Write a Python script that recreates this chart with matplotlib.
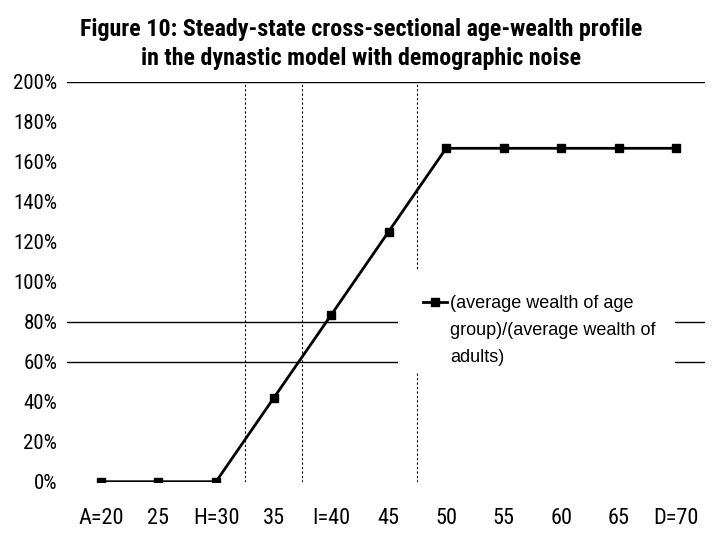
import matplotlib
matplotlib.use("Agg")
import matplotlib.pyplot as plt
from matplotlib.lines import Line2D
from matplotlib.patches import Rectangle

# ── Data ──────────────────────────────────────────────────────────────────────
AGES    = ["A=20", "25", "H=30", "35", "I=40", "45", "50", "55", "60", "65", "D=70"]
WEALTH  = [0, 0, 0, 41.7, 83.3, 125.0, 166.7, 166.7, 166.7, 166.7, 166.7]
YTICKS  = [0, 20, 40, 60, 80, 100, 120, 140, 160, 180, 200]
VLINES  = [2.5, 3.5, 5.5]        # dotted separators between age groups
HLINES  = [200, 80, 60]
LABEL   = ["(average wealth of age", "group)/(average wealth of", "adults)"]
TITLE   = ("Figure 10: Steady-state cross-sectional age-wealth profile\n"
           "in the dynastic model with demographic noise")

NARROW  = ["Roboto Condensed", "Archivo Narrow", "Asap Condensed", "DejaVu Sans"]
REGULAR = ["Liberation Sans", "DejaVu Sans"]

fig = plt.figure(figsize=(7.2, 5.4), dpi=100)
ax = fig.add_axes([67 / 720, 1 - 481.7 / 540, 638 / 720, 400 / 540])

x = list(range(len(AGES)))
for v in VLINES:
    ax.axvline(v, color="black", lw=0.8, ls=(0, (2, 2)), zorder=1)
for h in HLINES:
    ax.axhline(h, color="black", lw=1.0, zorder=1)

# white box behind legend (covers grid lines like the original)
ax.add_patch(Rectangle((0.519, 0.274), 0.434, 0.255, transform=ax.transAxes,
                       facecolor="white", edgecolor="none", zorder=2))

line, = ax.plot(x, WEALTH, color="black", lw=2, marker="s", ms=6, zorder=3)

ax.set_xlim(-0.59, 10.5)
ax.set_ylim(0, 200)
ax.set_xticks(x)
ax.set_xticklabels(AGES, fontfamily=NARROW, fontsize=16)
ax.set_yticks(YTICKS)
ax.set_yticklabels([f"{t}%" for t in YTICKS], fontfamily=NARROW, fontsize=15)
ax.tick_params(axis="both", length=0)
ax.tick_params(axis="x", pad=19)
ax.tick_params(axis="y", pad=7)
for s in ax.spines.values():
    s.set_visible(False)

blank = Line2D([], [], linestyle="none")
leg = ax.legend([line, blank, blank], LABEL, loc="upper left",
                bbox_to_anchor=(0.558, 0.466), frameon=False,
                prop={"family": REGULAR, "size": 13}, handlelength=1.33,
                handletextpad=0.17, labelspacing=0.54, borderpad=0, borderaxespad=0)
leg.set_zorder(4)

fig.text(0.502, 1 - 44 / 540, TITLE, ha="center", va="center",
         fontfamily=NARROW, fontweight="bold", fontsize=17.3, linespacing=1.3)

fig.savefig("out.png", dpi=100, facecolor="white")
